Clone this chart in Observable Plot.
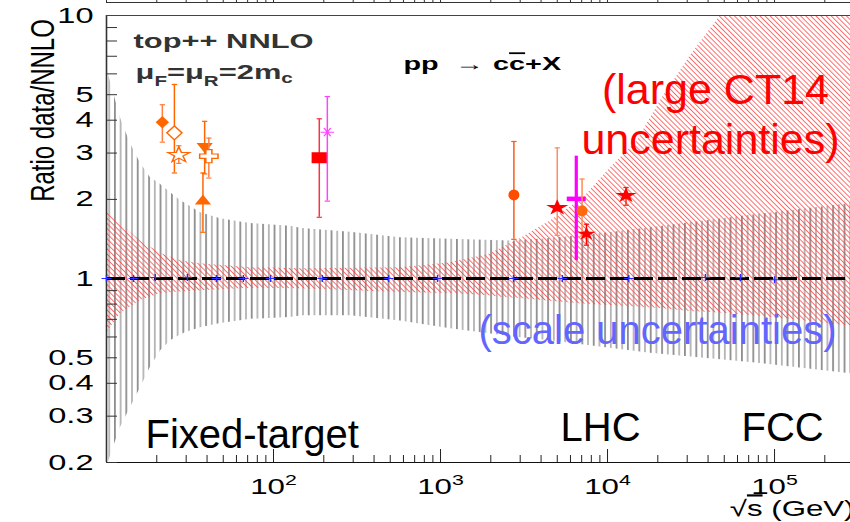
<!DOCTYPE html>
<html>
<head>
<meta charset="utf-8">
<script src="https://cdn.jsdelivr.net/npm/d3@7"></script>
<script src="https://cdn.jsdelivr.net/npm/@observablehq/plot@0.6"></script>
<style>
html,body{margin:0;padding:0;background:#fff;}
#chart svg{display:block;}
</style>
</head>
<body>
<div id="chart"></div>
<script>
// ---------------- data ----------------
const xTickValues = [100, 1000, 10000, 100000];
const xTickLabels = ["10^2", "10^3", "10^4", "10^5"];
const yTickValues = [0.2, 0.3, 0.4, 0.5, 1, 2, 3, 4, 5, 10];
const yTickLabels = ["0.2", "0.3", "0.4", "0.5", "1", "2", "3", "4", "5", "10"];

// scale-uncertainty band (grey vertical lines)
const scaleBandX    = [10, 10.4, 11.0, 12.1, 13.9, 16.0, 18.3, 21.1, 24.2, 27.7, 29.7, 36.6, 48.2, 63.4, 72.8, 126, 149, 289, 576, 1148, 2735, 4560, 9000, 18070, 71800, 285000];
const scaleBandHigh = [6.3, 5.8, 5.1, 4.1, 3.26, 2.74, 2.42, 2.28, 2.12, 1.98, 1.93, 1.78, 1.69, 1.64, 1.62, 1.58, 1.55, 1.50, 1.43, 1.41, 1.39, 1.42, 1.48, 1.56, 1.74, 1.93];
const scaleBandLow  = [0.19, 0.205, 0.228, 0.271, 0.323, 0.385, 0.459, 0.532, 0.581, 0.61, 0.623, 0.651, 0.675, 0.692, 0.70, 0.711, 0.723, 0.723, 0.69, 0.645, 0.60, 0.58, 0.55, 0.52, 0.48, 0.435];

// CT14 PDF-uncertainty band (red hatch)
const pdfBandX    = [10, 12.1, 16.0, 21.1, 27.7, 36.6, 72.8, 149, 576, 1148, 1990, 2285, 3013, 4560, 7180, 10420, 15140, 20770, 31400, 47500, 100000, 285000];
const pdfBandHigh = [1.81, 1.62, 1.39, 1.245, 1.17, 1.14, 1.10, 1.09, 1.10, 1.15, 1.24, 1.30, 1.42, 1.66, 2.03, 2.64, 3.35, 4.75, 7.05, 10, 20, 40];
const pdfBandLow  = [0.62, 0.736, 0.825, 0.877, 0.89, 0.90, 0.92, 0.916, 0.885, 0.877, 0.86, 0.85, 0.84, 0.82, 0.80, 0.79, 0.78, 0.77, 0.75, 0.74, 0.71, 0.66];

// NNLO central points (blue) on the ratio = 1 line
const centralX = [10, 14.5, 19.6, 30.5, 45.6, 66, 96, 196, 489, 960, 2735, 5370, 13400, 38600, 62500, 100000];
const centralY = [1, 1, 1.01, 1.01, 1, 1, 1, 1, 1, 1, 1, 1, 1, 1.01, 1.01, 0.99];

// measurements: ratio data / NNLO
const pointIds  = ["ft1", "ft2", "ft3", "ft4", "ft5", "ft6", "rhic1", "rhic2", "lhc2", "lhc5", "lhc7a", "lhc7b", "lhc7c", "lhc13"];
const pointX    = [21.6, 25.5, 27.1, 38.7, 41.0, 37.8, 188, 210, 2750, 5000, 6500, 7040, 7480, 12900];
const pointY    = [3.93, 3.58, 2.95, 3.18, 2.92, 1.97, 2.88, 3.60, 2.08, 1.86, 2.01, 1.81, 1.48, 2.07];
const pointLow  = [3.30, 2.52, 2.74, 2.50, 2.41, 1.50, 1.71, 1.97, 1.41, 1.46, 1.17, 1.45, 1.34, 1.90];
const pointHigh = [4.58, 5.47, 3.20, 3.96, 3.42, 2.52, 4.05, 4.92, 3.32, 3.14, 2.92, 2.39, 1.61, 2.22];

// ---------------- layout / styles ----------------
const W = 850, H = 522, ML = 106, MR = 0, MT = 15, MB = 60;
const FW = W - ML - MR, FH = H - MT - MB;
const xDomain = [10, 285000], yDomain = [0.2, 10];
const FONT = "'Liberation Sans', Arial, Helvetica, sans-serif";
const ORANGE = "#ff6600";

const diamondSym = {draw(ctx, size) { const r = Math.sqrt(size / Math.PI), w = r * 0.77;
  ctx.moveTo(0, -r); ctx.lineTo(w, 0); ctx.lineTo(0, r); ctx.lineTo(-w, 0); ctx.closePath(); }};
const hbarSym = {draw(ctx, size) { const r = Math.sqrt(size / Math.PI); ctx.moveTo(-r, 0); ctx.lineTo(r, 0); }};
const capSym = hbarSym;

const style = {
  ft1:   {symbol: diamondSym, r: 6.2, fill: ORANGE, stroke: "none", bar: "#ff7f40"},
  ft2:   {symbol: diamondSym, r: 7, fill: "white", stroke: ORANGE, sw: 1.2, bar: ORANGE},
  ft3:   {symbol: "star", r: 4.9, fill: "white", stroke: ORANGE, sw: 1.1, bar: "#ff7f40"},
  ft4:   {symbol: "triangle", r: 4.3, rotate: 180, fill: ORANGE, stroke: "none", bar: ORANGE},
  ft5:   {symbol: "cross", r: 5.5, fill: "white", stroke: ORANGE, sw: 1.1, bar: "#ff7f40"},
  ft6:   {symbol: "triangle", r: 4.3, fill: ORANGE, stroke: "none", bar: ORANGE},
  rhic1: {symbol: "square", r: 6.2, fill: "#ff0000", stroke: "none", bar: "#ff3040"},
  rhic2: {symbol: "asterisk", r: 4.5, rotate: 90, fill: "none", stroke: "#ff44ff", sw: 1, bar: "#ff44ff"},
  lhc2:  {symbol: "circle", r: 5.5, fill: "#ff4d00", stroke: "none", bar: "#ff5a1a"},
  lhc5:  {symbol: "star", r: 5, fill: "#ff0000", stroke: "none", bar: "#ff8a66"},
  lhc7a: {symbol: hbarSym, r: 6.8, fill: "none", stroke: "#ff00ff", sw: 4.5, bar: "#ff00ff", bw: 3.2, nocap: true},
  lhc7b: {symbol: "circle", r: 5.5, fill: "#ff6a10", stroke: "none", bar: "#ff8a55"},
  lhc7c: {symbol: "star", r: 4.2, fill: "#ff0000", stroke: "none", bar: "#ff0000"},
  lhc13: {symbol: "star", r: 4.8, fill: "#ff0000", stroke: "none", bar: "#ff2200"}
};

const scaleBand = scaleBandX.map((x, i) => ({x, lo: scaleBandLow[i], hi: scaleBandHigh[i]}));
const pdfBand = pdfBandX.map((x, i) => ({x, lo: pdfBandLow[i], hi: pdfBandHigh[i]}));
const central = centralX.map((x, i) => ({x, y: centralY[i]}));
const points = pointIds.map((id, i) => ({id, x: pointX[i], y: pointY[i], lo: pointLow[i], hi: pointHigh[i]}));

// minor tick positions of the log axes
const xMinor = [];
for (const d of [10, 100, 1000, 10000, 100000]) for (let k = 2; k <= 9; k++) if (d * k <= xDomain[1]) xMinor.push(d * k);
const yTicksAll = [];
for (const d of [0.1, 1]) for (let k = 1; k <= 9; k++) { const v = +(d * k).toFixed(2); if (v >= 0.2 && v < 10) yTicksAll.push(v); }
const xLabelOf = new Map(xTickValues.map((v, i) => [v, xTickLabels[i]]));
const yLabelOf = new Map(yTickValues.map((v, i) => [v, yTickLabels[i]]));

const pointMarks = points.flatMap(p => {
  const s = style[p.id];
  const m = [Plot.ruleX([p], {x: "x", y1: "lo", y2: "hi", stroke: s.bar, strokeWidth: s.bw || 1.5})];
  if (!s.nocap) m.push(Plot.dot([p.lo, p.hi], {x: () => p.x, y: d => d, symbol: capSym, r: 1.9, stroke: s.bar, strokeWidth: 1.2, fill: "none"}));
  m.push(Plot.dot([p], {x: "x", y: "y", symbol: s.symbol, r: s.r, fill: s.fill, stroke: s.stroke,
    strokeWidth: s.sw || 1, rotate: s.rotate || 0}));
  return m;
});

const chart = Plot.plot({
  width: W, height: H,
  marginLeft: ML, marginRight: MR, marginTop: MT, marginBottom: MB,
  x: {type: "log", domain: xDomain, label: null},
  y: {type: "log", domain: yDomain, label: null},
  style: {fontFamily: FONT, background: "white", overflow: "visible", color: "black"},
  marks: [
    Plot.areaY(scaleBand, {x: "x", y1: "lo", y2: "hi", fill: "url(#greyLines)", clip: true}),
    Plot.areaY(pdfBand, {x: "x", y1: "lo", y2: "hi", fill: "url(#redHatch)", clip: true}),
    // frame
    Plot.ruleX([xDomain[0]], {stroke: "#333", strokeWidth: 1.6}),
    Plot.ruleY([yDomain[1]], {stroke: "#444", strokeWidth: 1}),
    Plot.ruleY([yDomain[0]], {stroke: "#111", strokeWidth: 1.2}),
    // strip of the panel above
    Plot.ruleY([yDomain[1]], {dy: -13, stroke: "#333", strokeWidth: 1}),
    Plot.ruleX([xDomain[0], ...xMinor, ...xTickValues], {x: d => d, insetBottom: FH - 5, dy: -18, stroke: "#333", strokeWidth: 1}),
    // inward ticks
    Plot.ruleX(xMinor, {x: d => d, insetTop: FH - 7, stroke: "#222", strokeWidth: 1}),
    Plot.ruleX(xTickValues, {x: d => d, insetTop: FH - 13, stroke: "#222", strokeWidth: 1}),
    Plot.ruleY(yTicksAll, {y: d => d, insetRight: FW - 11, stroke: "#333", strokeWidth: 1}),
    // axis labels
    Plot.axisX(xTickValues, {tickSize: 0, tickPadding: 16, fontSize: 22, tickFormat: d => xLabelOf.get(d), label: null}),
    Plot.axisY(yTickValues, {tickSize: 0, tickPadding: 13, fontSize: 22, tickFormat: d => yLabelOf.get(d), label: null}),
    // reference line and NNLO points
    Plot.ruleY([1], {stroke: "black", strokeWidth: 3, strokeDasharray: "19,5"}),
    Plot.dot(central, {x: "x", y: "y", symbol: "plus", r: 2.4, stroke: "#2b2bff", strokeWidth: 1}),
    ...pointMarks,
    // ROOT-drawn texts
    Plot.text(["top++ NNLO"], {frameAnchor: "top-left", dx: 27, dy: 18, textAnchor: "start", fontSize: 21, fontWeight: "bold", fill: "#333"}),
    Plot.text(["μF=μR=2mc"], {frameAnchor: "top-left", dx: 29, dy: 49, textAnchor: "start", fontSize: 21, fontWeight: "bold", fill: "#333"}),
    Plot.text(["pp → cc+X"], {frameAnchor: "top-left", dx: 297, dy: 42, textAnchor: "start", fontSize: 18, fontWeight: "bold", fill: "black"}),
    Plot.text(["√s (GeV)"], {frameAnchor: "bottom-right", dx: 4, dy: 53, textAnchor: "end", fontSize: 22, fill: "black"}),
    Plot.text(["Ratio data/NNLO"], {frameAnchor: "top-left", dx: -77, dy: 95, rotate: -90, textAnchor: "middle", fontSize: 24, fill: "black"}),
    // annotations
    Plot.text(["(large CT14"], {frameAnchor: "top-left", dx: 609, dy: 58, textAnchor: "middle", fontSize: 43, fill: "#ff0000"}),
    Plot.text(["uncertainties)"], {frameAnchor: "top-left", dx: 604, dy: 108, textAnchor: "middle", fontSize: 43, fill: "#ff0000"}),
    Plot.text(["(scale uncertainties)"], {frameAnchor: "top-left", dx: 551, dy: 300, textAnchor: "middle", fontSize: 40, fill: "#6464ff"}),
    Plot.text(["Fixed-target"], {frameAnchor: "top-left", dx: 39, dy: 404, textAnchor: "start", fontSize: 40, fill: "black"}),
    Plot.text(["LHC"], {frameAnchor: "top-left", dx: 454, dy: 397, textAnchor: "start", fontSize: 40, fill: "black"}),
    Plot.text(["FCC"], {frameAnchor: "top-left", dx: 635, dy: 397, textAnchor: "start", fontSize: 40, fill: "black"})
  ]
});

// hatch patterns
const defs = document.createElementNS("http://www.w3.org/2000/svg", "defs");
defs.innerHTML = `
<pattern id="greyLines" patternUnits="userSpaceOnUse" width="11.4" height="20">
  <rect x="0" y="0" width="1.8" height="20" fill="#8e8e8e"/>
  <rect x="5.7" y="0" width="1.8" height="20" fill="#b4b4b4"/>
</pattern>
<pattern id="redHatch" patternUnits="userSpaceOnUse" width="3.6" height="10" patternTransform="rotate(-45)">
  <line x1="0.5" y1="0" x2="0.5" y2="10" stroke="#ff4040" stroke-width="0.8"/>
</pattern>`;
chart.insertBefore(defs, chart.firstChild);

// the ROOT canvas is horizontally stretched: widen its texts and markers
function stretchEls(els, s) {
  els.forEach(el => {
    const t = el.getAttribute("transform") || "";
    const m = t.match(/^\s*translate\(([^)]*)\)(.*)$/);
    if (m) el.setAttribute("transform", `translate(${m[1]}) scale(${s},1)${m[2]}`);
    else {
      const x = +(el.getAttribute("x") || 0), y = +(el.getAttribute("y") || 0);
      el.removeAttribute("x"); el.removeAttribute("y");
      el.setAttribute("transform", `translate(${x},${y}) scale(${s},1) ${t}`);
    }
  });
}
const allTexts = () => Array.from(chart.querySelectorAll("text"));
const textsOf = str => allTexts().filter(t => t.textContent === str);

const tTop = textsOf("top++ NNLO");
const tMu = textsOf("μF=μR=2mc");
const tPP = textsOf("pp → cc+X");
const tXl = textsOf("√s (GeV)");
const tYl = textsOf("Ratio data/NNLO");
const tYt = Array.from(chart.querySelectorAll('g[aria-label="y-axis tick label"] text'));
const tXt = Array.from(chart.querySelectorAll('g[aria-label="x-axis tick label"] text'));

// rich text
tXt.forEach(el => {
  const [b, e] = el.textContent.split("^");
  el.innerHTML = `${b}<tspan dy="-9" font-size="15">${e}</tspan>`;
});
tMu.forEach(el => {
  el.innerHTML = `μ<tspan font-size="14" dy="7">F</tspan><tspan dy="-7">=μ</tspan><tspan font-size="14" dy="7">R</tspan><tspan dy="-7">=2m</tspan><tspan font-size="14" dy="4">c</tspan>`;
});
tPP.forEach(el => {
  el.innerHTML = `pp<tspan dx="10">→</tspan><tspan dx="6">c</tspan><tspan style="text-decoration:overline">c</tspan>+X`;
});
tXl.forEach(el => {
  el.innerHTML = `√<tspan style="text-decoration:overline">s</tspan> (GeV)`;
});
stretchEls(tYt, 1.48);
stretchEls(tXt, 1.42);
stretchEls(tTop, 1.47);
stretchEls(tMu, 1.47);
stretchEls(tPP, 1.6);
stretchEls(tXl, 1.42);
stretchEls(tYl, 1.42);
stretchEls(Array.from(chart.querySelectorAll('g[aria-label="dot"] path')), 1.4);

document.getElementById("chart").appendChild(chart);
</script>
</body>
</html>
